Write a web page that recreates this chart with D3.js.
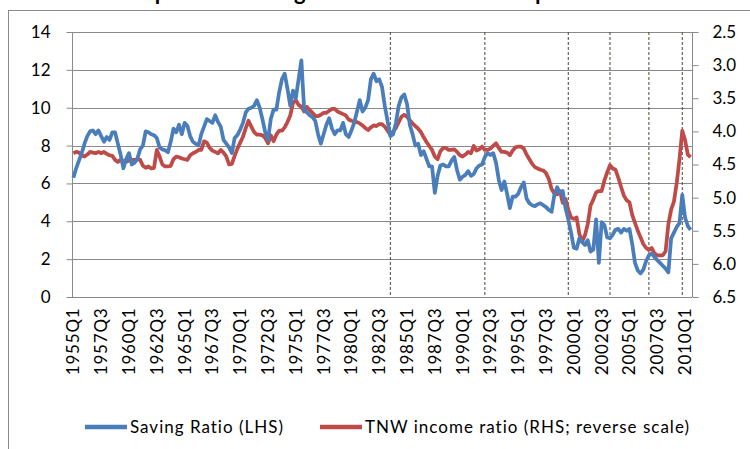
<!DOCTYPE html>
<html>
<head>
<meta charset="utf-8">
<script src="https://cdn.jsdelivr.net/npm/d3@7"></script>
<style>
  body { margin: 0; background: #fff; }
  svg { display: block; font-family: Lato, "Open Sans", sans-serif; }
  .grid line { stroke: #8a8a8a; stroke-width: 1; }
  .axis path, .axis line { stroke: #8a8a8a; }
  .axis text { fill: #000; }
</style>
</head>
<body>
<svg id="chart" width="750" height="449"></svg>
<script>
// quarters run from 1955Q1 to 2010Q3
const firstYear = 1955;
const quarterCount = 223;

const tickLabels = ["1955Q1", "1957Q3", "1960Q1", "1962Q3", "1965Q1", "1967Q3", "1970Q1", "1972Q3",
  "1975Q1", "1977Q3", "1980Q1", "1982Q3", "1985Q1", "1987Q3", "1990Q1", "1992Q3", "1995Q1",
  "1997Q3", "2000Q1", "2002Q3", "2005Q1", "2007Q3", "2010Q1"];

const markerQuarters = ["1983Q3", "1992Q1", "1999Q3", "2003Q2", "2006Q4", "2009Q4"];

const leftTicks = [0, 2, 4, 6, 8, 10, 12, 14];
const rightTicks = [2.5, 3.0, 3.5, 4.0, 4.5, 5.0, 5.5, 6.0, 6.5];

// Saving ratio, per cent (LHS)
const savingRatio = [
  6.3, 6.8, 7.2, 7.6, 8.1, 8.5, 8.75, 8.8, 8.6, 8.8,
  8.5, 8.2, 8.45, 8.3, 8.7, 8.7, 8.1, 7.5, 6.8, 7.3,
  7.6, 7.0, 7.1, 7.3, 7.8, 8.0, 8.75, 8.7, 8.6, 8.55,
  8.4, 7.9, 7.8, 7.75, 7.65, 8.2, 8.9, 8.7, 9.1, 8.6,
  9.2, 9.05, 8.5, 8.2, 8.1, 8.0, 8.6, 9.0, 9.4, 9.3,
  9.2, 9.6, 9.25, 9.0, 8.3, 8.1, 7.9, 7.6, 8.4, 8.55,
  8.85, 9.2, 9.75, 9.95, 10.0, 10.1, 10.4, 10.0, 9.4, 8.7,
  8.3, 9.4, 9.9, 9.9, 10.8, 11.5, 11.8, 11.0, 10.1, 10.9,
  10.5, 11.5, 12.5, 9.9, 9.75, 9.6, 9.5, 9.3, 8.6, 8.1,
  8.6, 9.1, 9.45, 8.9, 8.6, 8.8, 8.8, 9.2, 8.6, 8.45,
  8.8, 9.2, 9.8, 10.4, 9.8, 10.0, 10.4, 11.5, 11.8, 11.4,
  11.5, 11.1, 10.1, 9.3, 8.5, 8.6, 9.2, 10.1, 10.55, 10.7,
  10.2, 9.1, 8.6, 8.0, 8.1, 7.5, 7.7, 7.3, 6.9, 6.9,
  5.5, 6.4, 6.95, 7.0, 6.9, 6.9, 7.2, 7.4, 6.7, 6.2,
  6.35, 6.45, 6.65, 6.4, 6.5, 6.8, 6.95, 7.0, 7.4, 7.6,
  7.5, 7.6, 7.1, 6.2, 5.65, 6.1, 5.45, 4.7, 5.3, 5.3,
  5.45, 5.8, 6.05, 5.2, 4.95, 4.85, 4.8, 4.9, 4.95, 4.85,
  4.75, 4.6, 4.5, 5.4, 5.8, 5.5, 5.6, 4.7, 4.1, 3.4,
  2.6, 2.55, 3.1, 2.9, 2.75, 3.0, 2.4, 2.5, 4.1, 1.8,
  3.95, 3.8, 3.15, 3.1, 3.3, 3.55, 3.6, 3.4, 3.6, 3.5,
  3.6, 2.8, 1.8, 1.4, 1.25, 1.45, 1.9, 2.2, 2.3, 2.1,
  1.95, 1.8, 1.65, 1.5, 1.3, 3.1, 3.4, 3.7, 3.9, 5.4,
  4.2, 3.75, 3.55
];

// Total net wealth / income ratio (RHS, reverse scale)
const tnwRatio = [
  4.33, 4.31, 4.32, 4.36, 4.38, 4.35, 4.31, 4.32, 4.33, 4.31,
  4.33, 4.31, 4.34, 4.36, 4.37, 4.43, 4.46, 4.43, 4.45, 4.46,
  4.44, 4.43, 4.43, 4.42, 4.43, 4.52, 4.55, 4.53, 4.56, 4.55,
  4.28, 4.38, 4.50, 4.53, 4.53, 4.52, 4.42, 4.38, 4.39, 4.41,
  4.42, 4.43, 4.36, 4.33, 4.31, 4.28, 4.28, 4.15, 4.17, 4.25,
  4.29, 4.31, 4.33, 4.28, 4.32, 4.38, 4.50, 4.49, 4.37, 4.26,
  4.17, 4.08, 3.95, 3.84, 3.93, 4.01, 4.05, 4.05, 4.06, 4.10,
  4.18, 4.06, 4.15, 4.05, 3.99, 3.99, 3.94, 3.86, 3.76, 3.57,
  3.53, 3.60, 3.63, 3.70, 3.63, 3.68, 3.72, 3.77, 3.77, 3.75,
  3.72, 3.72, 3.69, 3.66, 3.66, 3.70, 3.72, 3.74, 3.76, 3.82,
  3.84, 3.85, 3.86, 3.88, 3.91, 3.95, 3.98, 3.94, 3.91, 3.92,
  3.89, 3.89, 3.93, 3.99, 4.05, 4.00, 3.95, 3.86, 3.78, 3.75,
  3.78, 3.83, 3.88, 3.92, 3.96, 4.01, 4.09, 4.16, 4.22, 4.28,
  4.38, 4.42, 4.30, 4.25, 4.25, 4.28, 4.28, 4.27, 4.31, 4.36,
  4.38, 4.35, 4.31, 4.33, 4.22, 4.29, 4.27, 4.23, 4.28, 4.28,
  4.26, 4.22, 4.18, 4.25, 4.31, 4.31, 4.32, 4.36, 4.29, 4.24,
  4.23, 4.23, 4.26, 4.35, 4.42, 4.49, 4.54, 4.56, 4.58, 4.59,
  4.63, 4.72, 4.87, 4.94, 4.95, 4.90, 5.08, 5.02, 5.18, 5.30,
  5.32, 5.30, 5.55, 5.66, 5.57, 5.40, 5.12, 5.03, 4.92, 4.90,
  4.90, 4.74, 4.62, 4.51, 4.56, 4.58, 4.70, 4.84, 4.97, 5.04,
  5.07, 5.26, 5.38, 5.50, 5.60, 5.70, 5.76, 5.79, 5.76, 5.84,
  5.87, 5.87, 5.87, 5.81, 5.40, 5.18, 5.06, 4.78, 4.42, 3.99,
  4.13, 4.35, 4.39
];

const seriesNames = ["Saving Ratio (LHS)", "TNW income ratio (RHS; reverse scale)"];
const seriesColors = ["#4a7ebb", "#be4b48"];

class DualAxisChart {

    constructor(_config) {
        this.config = {
            parentElement: _config.parentElement,
            margin: { top: 32, bottom: 152, left: 72, right: 58 }
        };
        this.initVis();
    }

    initVis() {
        let vis = this;
        vis.svg = d3.select(vis.config.parentElement);
        const width = +vis.svg.attr('width');
        const height = +vis.svg.attr('height');
        vis.width = width - vis.config.margin.left - vis.config.margin.right;
        vis.height = height - vis.config.margin.top - vis.config.margin.bottom;

        vis.quarters = d3.range(quarterCount).map(i => `${firstYear + Math.floor(i / 4)}Q${i % 4 + 1}`);

        vis.xScale = d3.scaleBand()
            .domain(vis.quarters)
            .range([0, vis.width]);

        vis.yLeft = d3.scaleLinear().domain([0, 14]).range([vis.height, 0]);
        // reverse scale on the right
        vis.yRight = d3.scaleLinear().domain([2.5, 6.5]).range([0, vis.height]);

        // title sits above the picture's top edge, as in the source image
        vis.svg.append('text')
            .attr('x', 118)
            .attr('y', 0)
            .attr('font-weight', 'bold')
            .attr('font-size', 22)
            .text('UK personal saving ratio and wealth: the squeeze on household savings');

        vis.svg.append('rect')
            .attr('x', 8.5).attr('y', 10.5)
            .attr('width', 800).attr('height', 500)
            .attr('fill', 'none')
            .attr('stroke', '#8a8a8a');

        vis.chart = vis.svg.append('g')
            .attr('transform', `translate(${vis.config.margin.left},${vis.config.margin.top})`);

        vis.renderVis();
    }

    renderVis() {
        let vis = this;

        vis.chart.append('g')
            .attr('class', 'grid')
            .selectAll('line')
            .data(leftTicks)
            .join('line')
                .attr('x1', 0)
                .attr('x2', vis.width)
                .attr('y1', d => Math.round(vis.yLeft(d)) + 0.5)
                .attr('y2', d => Math.round(vis.yLeft(d)) + 0.5);

        const yAxisL = vis.chart.append('g')
            .attr('class', 'axis')
            .attr('transform', 'translate(0.5,0)')
            .call(d3.axisLeft(vis.yLeft).tickValues(leftTicks).tickSize(6).tickPadding(16))
            .attr('font-family', null)
            .attr('font-size', 17);
        yAxisL.select('.domain').attr('d', `M0,${vis.height}V0`);

        const yAxisR = vis.chart.append('g')
            .attr('class', 'axis')
            .attr('transform', `translate(${vis.width + 0.5},0)`)
            .call(d3.axisRight(vis.yRight).tickValues(rightTicks).tickFormat(d3.format('.1f')).tickSize(6).tickPadding(14))
            .attr('font-family', null)
            .attr('font-size', 17);
        yAxisR.select('.domain').attr('d', `M0,${vis.height}V0`);

        const xAxis = vis.chart.append('g')
            .attr('class', 'axis')
            .attr('transform', `translate(0,${vis.height + 0.5})`)
            .call(d3.axisBottom(vis.xScale).tickValues(tickLabels).tickSize(0))
            .attr('font-family', null)
            .attr('font-size', 17);
        xAxis.select('.domain').attr('d', `M0,0H${vis.width}`);
        xAxis.selectAll('text')
            .attr('transform', 'rotate(-90)')
            .attr('text-anchor', 'end')
            .attr('letter-spacing', '0.8px')
            .attr('dy', '0.35em')
            .attr('x', -10)
            .attr('y', 0);

        // dashed markers
        vis.chart.append('g')
            .selectAll('line')
            .data(markerQuarters)
            .join('line')
                .attr('x1', d => vis.xScale(d) + vis.xScale.bandwidth() / 2)
                .attr('x2', d => vis.xScale(d) + vis.xScale.bandwidth() / 2)
                .attr('y1', vis.yLeft(14))
                .attr('y2', vis.yLeft(0))
                .attr('stroke', '#4b4632')
                .attr('stroke-width', 1)
                .attr('stroke-dasharray', '3,2');

        const xPos = (d, i) => vis.xScale(vis.quarters[i]) + vis.xScale.bandwidth() / 2;

        vis.chart.append('path')
            .datum(tnwRatio)
            .attr('fill', 'none')
            .attr('stroke', seriesColors[1])
            .attr('stroke-width', 3.75)
            .attr('stroke-linejoin', 'round')
            .attr('d', d3.line().x(xPos).y(d => vis.yRight(d)));

        vis.chart.append('path')
            .datum(savingRatio)
            .attr('fill', 'none')
            .attr('stroke', seriesColors[0])
            .attr('stroke-width', 3.75)
            .attr('stroke-linejoin', 'round')
            .attr('d', d3.line().x(xPos).y(d => vis.yLeft(d)));

        vis._renderLegend();
    }

    _renderLegend() {
        let vis = this;
        const legendX = [85, 320];

        const items = vis.svg.append('g')
            .selectAll('g')
            .data(seriesNames)
            .join('g')
                .attr('transform', (d, i) => `translate(${legendX[i]},427)`);

        items.append('line')
            .attr('x1', 0).attr('x2', 42)
            .attr('stroke', (d, i) => seriesColors[i])
            .attr('stroke-width', 4.5);

        items.append('text')
            .attr('x', 45)
            .attr('dy', '0.35em')
            .attr('font-size', 17)
            .attr('letter-spacing', '1px')
            .text(d => d);
    }
}

new DualAxisChart({ parentElement: '#chart' });
</script>
</body>
</html>
